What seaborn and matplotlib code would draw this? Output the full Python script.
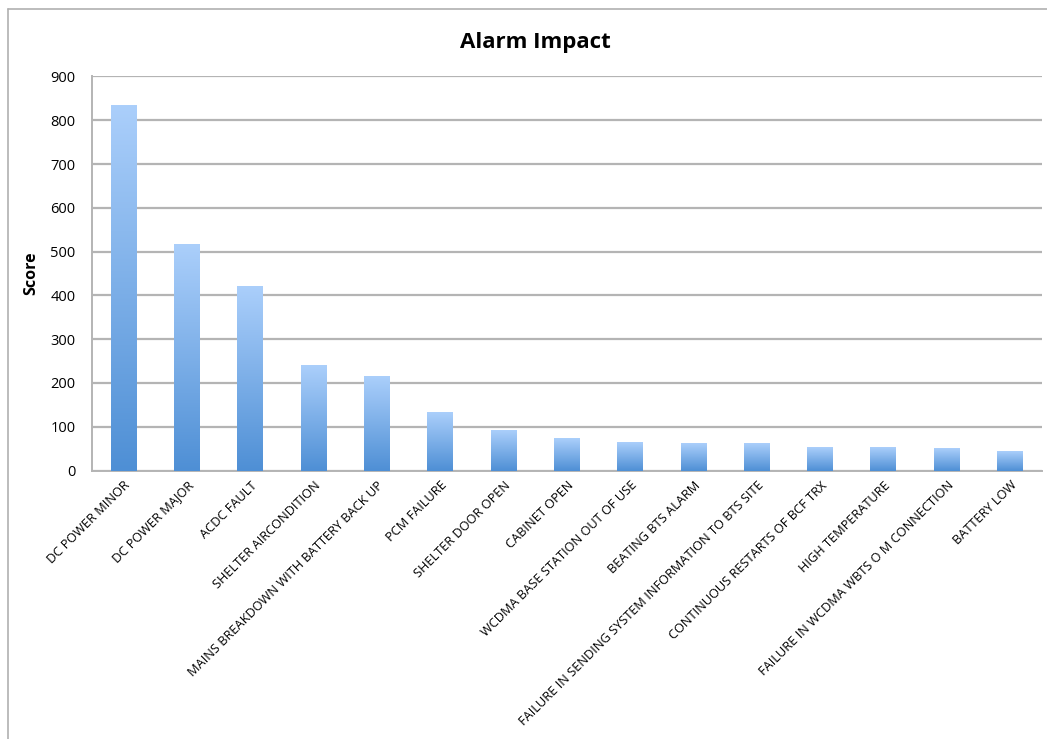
import matplotlib
matplotlib.use("Agg")
import matplotlib.pyplot as plt
import seaborn as sns
import numpy as np
import pandas as pd
from matplotlib.colors import LinearSegmentedColormap
from matplotlib.lines import Line2D

categories = [
    "DC POWER MINOR", "DC POWER MAJOR", "ACDC FAULT", "SHELTER AIRCONDITION",
    "MAINS BREAKDOWN WITH BATTERY BACK UP", "PCM FAILURE", "SHELTER DOOR OPEN",
    "CABINET OPEN", "WCDMA BASE STATION OUT OF USE", "BEATING BTS ALARM",
    "FAILURE IN SENDING SYSTEM INFORMATION TO BTS SITE",
    "CONTINUOUS RESTARTS OF BCF TRX", "HIGH TEMPERATURE",
    "FAILURE IN WCDMA WBTS O M CONNECTION", "BATTERY LOW",
]
scores = [835, 518, 421, 240, 215, 133, 92, 74, 66, 62, 62, 54, 53, 51, 44]
yticks = [0, 100, 200, 300, 400, 500, 600, 700, 800, 900]

sns.set_theme(style="white")
plt.rcParams["font.family"] = ["Open Sans", "DejaVu Sans"]
plt.rcParams["text.color"] = "black"
plt.rcParams["axes.labelcolor"] = "black"
plt.rcParams["xtick.color"] = "black"
plt.rcParams["ytick.color"] = "black"

df = pd.DataFrame({"Alarm": categories, "Score": scores})

fig = plt.figure(figsize=(10.47, 7.39), dpi=100)
ax = fig.add_axes([0.0879, 0.3633, 0.9071, 0.5332])

sns.barplot(data=df, x="Alarm", y="Score", ax=ax, color="#79aee8",
            width=0.41, saturation=1, zorder=3)

ax.set_ylim(0, 900)
ax.set_yticks(yticks)
ax.set_yticklabels([str(t) for t in yticks], fontsize=10.5)
ax.set_xlim(-0.5, len(categories) - 0.5)

# gradient fill on each bar
cmap = LinearSegmentedColormap.from_list("g", ["#4e8fd5", "#abcffb"])
grad = np.linspace(0, 1, 256).reshape(-1, 1)
for p in ax.patches:
    x0, y0 = p.get_x(), p.get_y()
    w, h = p.get_width(), p.get_height()
    p.set_facecolor("none")
    p.set_edgecolor("none")
    im = ax.imshow(grad, extent=[x0, x0 + w, y0, y0 + h], origin="lower",
                   cmap=cmap, aspect="auto", zorder=3)
    im.set_clip_path(p)
ax.set_xlim(-0.5, len(categories) - 0.5)
ax.set_ylim(0, 900)

ax.yaxis.grid(True, color="#b4b4b4", linewidth=1.6, zorder=0)
ax.set_axisbelow(True)
for s in ["top", "right"]:
    ax.spines[s].set_visible(False)
for s in ["left", "bottom"]:
    ax.spines[s].set_color("#b4b4b4")
    ax.spines[s].set_linewidth(1.4)
ax.tick_params(axis="both", length=0, pad=6)
ax.tick_params(axis="y", pad=12)

ax.set_xticks(range(len(categories)))
ax.set_xticklabels(categories, rotation=45, ha="right",
                   rotation_mode="anchor", fontsize=9.2)
ax.set_xlabel("")
ax.set_ylabel("Score", fontsize=11.5, fontweight="bold", labelpad=8)

fig.text(0.511, 0.942, "Alarm Impact", ha="center", va="center",
         fontsize=16, fontweight="bold")

# outer chart frame (left and top edges)
fig.add_artist(Line2D([0.0081, 0.0081], [0.0, 0.988], transform=fig.transFigure,
                      color="#b0b0b0", linewidth=1.2))
fig.add_artist(Line2D([0.0081, 1.0], [0.988, 0.988], transform=fig.transFigure,
                      color="#b0b0b0", linewidth=1.2))

fig.savefig("out.png", dpi=100)
